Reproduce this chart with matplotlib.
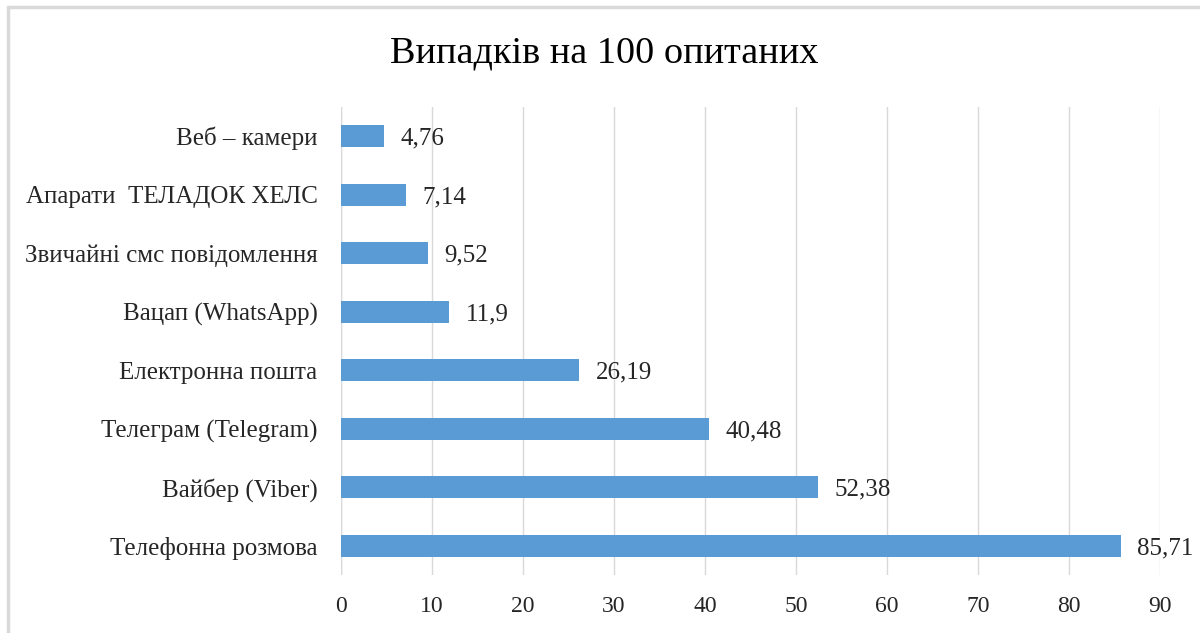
import matplotlib.pyplot as plt
from matplotlib.patches import Rectangle

categories = ["Телефонна розмова", "Вайбер (Viber)", "Телеграм (Telegram)",
              "Електронна пошта", "Вацап (WhatsApp)", "Звичайні смс повідомлення",
              "Апарати  ТЕЛАДОК ХЕЛС", "Веб – камери"]
values = [85.71, 52.38, 40.48, 26.19, 11.9, 9.52, 7.14, 4.76]
value_labels = ["85,71", "52,38", "40,48", "26,19", "11,9", "9,52", "7,14", "4,76"]
x_ticks = [0, 10, 20, 30, 40, 50, 60, 70, 80, 90]

plt.rcParams["font.family"] = ["Liberation Serif", "DejaVu Serif"]

fig = plt.figure(figsize=(12, 6.33), dpi=100)
fig.patches.append(Rectangle((8 / 1200, -0.1), 1.2, 1 - 7 / 633 + 0.1,
                             transform=fig.transFigure, fill=False,
                             edgecolor="#d9d9d9", linewidth=2.5))

ax = fig.add_axes([341 / 1200, 58 / 633, 819 / 1200, 468 / 633])
y = list(range(len(categories)))
ax.barh(y, values, height=0.37, color="#5b9bd5", zorder=3)
for yi, v, lab in zip(y, values, value_labels):
    ax.text(v + 1.8, yi, lab, va="center_baseline", ha="left", fontsize=18,
            color="#262626")

ax.set_xlim(0, 90)
ax.set_ylim(-0.5, len(categories) - 0.5)
ax.set_xticks(x_ticks)
ax.set_yticks(y)
ax.set_yticklabels(categories)
ax.tick_params(axis="both", length=0, colors="#262626")
ax.tick_params(axis="x", pad=15, labelsize=17)
ax.tick_params(axis="y", pad=17, labelsize=18)
ax.grid(axis="x", color="#d9d9d9", linewidth=1, zorder=0)
for sp in ax.spines.values():
    sp.set_visible(False)
ax.axvline(0, color="#d9d9d9", linewidth=1, zorder=1)

fig.text(604 / 1200, 1 - 53 / 633, "Випадків на 100 опитаних", ha="center",
         va="center", fontsize=27.5, color="black")

fig.savefig("out.png", dpi=100)
